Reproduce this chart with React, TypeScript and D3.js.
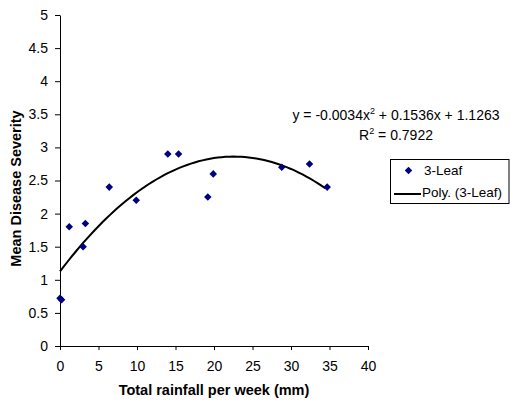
import React, { useEffect, useRef } from "react";
import * as d3 from "d3";

// rainfall (mm/week) vs mean disease severity, 3-leaf stage
const rainfall = [0, 0.2, 1.2, 3.0, 3.3, 6.4, 9.9, 14.0, 15.4, 19.2, 19.9, 28.8, 32.4, 34.7];
const severity = [0.72, 0.7, 1.8, 1.5, 1.85, 2.4, 2.2, 2.9, 2.9, 2.25, 2.6, 2.7, 2.75, 2.4];
// poly trend (a x^2 + b x + c)
const polyCoef = [-0.0034, 0.1536, 1.1263];
const xTicks = [0, 5, 10, 15, 20, 25, 30, 35, 40];
const yTicks = [0, 0.5, 1, 1.5, 2, 2.5, 3, 3.5, 4, 4.5, 5];

const FONT = "'Liberation Sans', Arial, sans-serif";
const NAVY = "#000080";

export default function App() {
  const svgRef = useRef<SVGSVGElement>(null);

  useEffect(() => {
    const svg = d3.select(svgRef.current);
    svg.selectAll("*").remove();

    const left = 60, right = 368, top = 15, bottom = 346;
    const x = d3.scaleLinear().domain([0, 40]).range([left, right]);
    const y = d3.scaleLinear().domain([0, 5]).range([bottom, top]);

    const g = svg.append("g").style("font-family", FONT);

    // axes
    const xAxis = g.append("g")
      .attr("transform", `translate(0,${bottom})`)
      .call(d3.axisBottom(x).tickValues(xTicks).tickFormat(d => String(d))
        .tickSizeOuter(0).tickSizeInner(4).tickPadding(11));
    const yAxis = g.append("g")
      .attr("transform", `translate(${left},0)`)
      .call(d3.axisLeft(y).tickValues(yTicks).tickFormat(d => String(d))
        .tickSizeOuter(0).tickSizeInner(5).tickPadding(7));
    [xAxis, yAxis].forEach(a => {
      a.selectAll("path,line").attr("stroke", "#000");
      a.selectAll("text").attr("fill", "#000").style("font-size", "14px").style("font-family", FONT);
    });

    // trend line
    const [a, b, c] = polyCoef;
    const xs = d3.range(0, 34.7 + 0.001, 0.5);
    g.append("path")
      .datum(xs)
      .attr("fill", "none")
      .attr("stroke", "#000")
      .attr("stroke-width", 2)
      .attr("d", d3.line<number>().x(d => x(d)).y(d => y(a * d * d + b * d + c)));

    // points
    const diamond = d3.symbol().type(d3.symbolDiamond2).size(36);
    g.selectAll("path.pt")
      .data(rainfall)
      .enter()
      .append("path")
      .attr("class", "pt")
      .attr("d", diamond)
      .attr("transform", (d, i) => `translate(${x(d)},${y(severity[i])})`)
      .attr("fill", NAVY);

    // equation
    const eq = g.append("text")
      .attr("x", 396).attr("y", 120)
      .attr("text-anchor", "middle")
      .style("font-size", "14px");
    eq.append("tspan").text("y = -0.0034x");
    eq.append("tspan").attr("dy", -6).style("font-size", "9px").text("2");
    eq.append("tspan").attr("dy", 6).text(" + 0.1536x + 1.1263");

    const r2 = g.append("text")
      .attr("x", 396).attr("y", 139.5)
      .attr("text-anchor", "middle")
      .style("font-size", "14px");
    r2.append("tspan").text("R");
    r2.append("tspan").attr("dy", -6).style("font-size", "9px").text("2");
    r2.append("tspan").attr("dy", 6).text(" = 0.7922");

    // legend
    g.append("rect")
      .attr("x", 390.5).attr("y", 159.5)
      .attr("width", 118.5).attr("height", 44)
      .attr("fill", "#fff").attr("stroke", "#000");
    g.append("path")
      .attr("d", diamond)
      .attr("transform", "translate(408.5,170.5)")
      .attr("fill", NAVY);
    g.append("text").attr("x", 424).attr("y", 175).style("font-size", "13.5px").text("3-Leaf");
    g.append("line")
      .attr("x1", 394).attr("x2", 421).attr("y1", 194).attr("y2", 194)
      .attr("stroke", "#000").attr("stroke-width", 2);
    g.append("text").attr("x", 422).attr("y", 197).style("font-size", "13.5px").text("Poly. (3-Leaf)");

    // axis titles
    g.append("text")
      .attr("x", (left + right) / 2).attr("y", 395)
      .attr("text-anchor", "middle")
      .style("font-size", "14.5px").style("font-weight", "bold")
      .text("Total rainfall per week (mm)");
    g.append("text")
      .attr("transform", `translate(21,${(top + bottom) / 2 + 8}) rotate(-90)`)
      .attr("text-anchor", "middle")
      .style("font-size", "14.5px").style("font-weight", "bold")
      .text("Mean Disease Severity");
  }, []);

  return (
    <svg
      ref={svgRef}
      width={510}
      height={403}
      style={{ position: "absolute", left: 0, top: 0, background: "#fff" }}
    />
  );
}
